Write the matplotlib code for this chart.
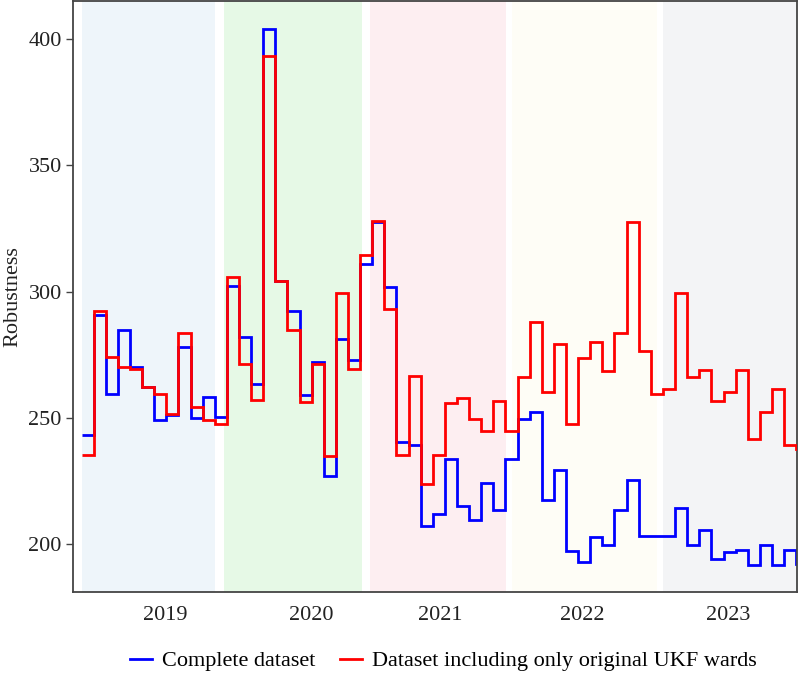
import numpy as np
from matplotlib import pyplot as plt

plt.rcParams['font.family'] = ['Liberation Serif', 'DejaVu Serif']
plt.rcParams['font.size'] = 16

# monthly robustness values
complete = [243.1, 290.8, 259.3, 284.7, 270.3, 262.3, 249.2, 251.3, 278.2, 249.9,
            258.2, 250.2, 302.1, 282.0, 263.4, 404.1, 304.4, 292.3, 259.0, 272.2,
            227.2, 281.2, 272.9, 311.0, 327.7, 302.0, 240.4, 239.2, 207.1, 212.1,
            233.6, 215.1, 209.4, 224.1, 213.5, 233.6, 249.5, 252.2, 217.4, 229.4,
            197.3, 193.1, 203.0, 199.5, 213.6, 225.6, 203.3, 203.3, 203.3, 214.2,
            199.5, 205.6, 194.0, 196.8, 197.7, 191.7, 199.5, 191.7, 197.7, 192.0]

original = [235.4, 292.3, 274.0, 270.3, 269.4, 262.3, 259.3, 251.7, 283.5, 254.5,
            249.2, 247.7, 305.7, 271.4, 257.3, 393.5, 304.4, 284.7, 256.3, 271.4,
            235.1, 299.4, 269.4, 314.5, 328.1, 293.3, 235.4, 266.6, 223.8, 235.4,
            256.0, 257.8, 249.5, 244.9, 256.6, 244.9, 266.1, 288.0, 260.4, 279.3,
            247.7, 273.7, 280.2, 268.7, 283.5, 327.7, 276.7, 259.3, 261.3, 299.4,
            266.4, 268.8, 256.6, 260.4, 268.8, 241.5, 252.5, 261.6, 239.2, 237.8]

years = ['2019', '2020', '2021', '2022', '2023']
year_ticks = [6.95, 19.0, 29.6, 41.3, 53.4]
band_start = [0.0, 11.78, 23.8, 35.5, 48.0]
band_end = [11.0, 23.14, 35.04, 47.5, 60.0]
band_colors = ['#eef5fa', '#e6f9e6', '#fdeef1', '#fefdf6', '#f3f4f6']

edges = np.arange(len(complete) + 1)

fig = plt.figure(figsize=(8, 6.76), dpi=100)
ax = fig.add_axes([0.091, 0.124, 0.905, 0.874])

for s, e, c in zip(band_start, band_end, band_colors):
    ax.axvspan(s, e, color=c, lw=0, zorder=0)

ax.stairs(complete, edges, baseline=None, color='#0000ff', lw=2.0,
          label='Complete dataset', zorder=2)
ax.stairs(original, edges, baseline=None, color='#ff0000', lw=2.0,
          label='Dataset including only original UKF wards', zorder=3)

ax.set_xlim(-0.72, 59.05)
ax.set_ylim(181, 415)
ax.set_yticks([200, 250, 300, 350, 400])
ax.set_xticks(year_ticks)
ax.set_xticklabels(years)
ax.tick_params(axis='x', length=0, pad=10, colors='#222222')
ax.tick_params(axis='y', length=5, width=1, pad=3, colors='#444444', labelcolor='#222222')
for sp in ax.spines.values():
    sp.set_color('#444444')
    sp.set_linewidth(1.3)

ax.set_ylabel('Robustness', color='#222222')
ax.yaxis.set_label_coords(-0.07, 0.5)

ax.legend(loc='center', bbox_to_anchor=(0.554, 0.022), bbox_transform=fig.transFigure,
          ncol=2, frameon=False, handlelength=1.0, handletextpad=0.45, columnspacing=1.1)

fig.savefig('out.png', dpi=100)
